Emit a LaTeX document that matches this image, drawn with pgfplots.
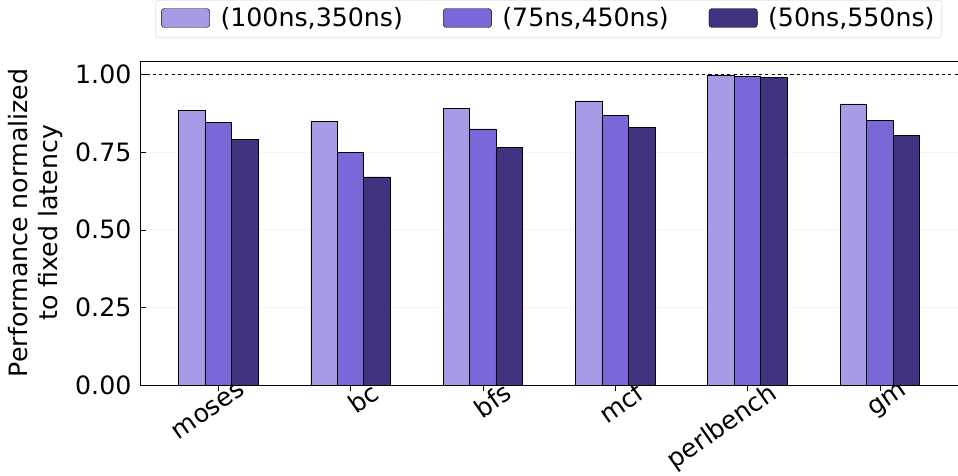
\documentclass[border=0pt]{standalone}
\usepackage{pgfplots}
\pgfplotsset{compat=1.18}
\usepackage{fontspec}
\setmainfont{DejaVu Sans}
\definecolor{cA}{RGB}{168,155,230}
\definecolor{cB}{RGB}{123,104,216}
\definecolor{cC}{RGB}{66,50,128}
\begin{document}
\fontsize{24}{28}\selectfont
\begin{tikzpicture}
\begin{axis}[
  width=777pt, height=308pt, scale only axis,
  xmin=-0.59, xmax=5.59, ymin=0, ymax=1.044,
  xtick={0,...,5}, xticklabels={moses,bc,bfs,mcf,perlbench,gm},
  x tick label style={rotate=35, anchor=north east, inner sep=1pt, xshift=22pt, yshift=-2pt},
  ytick={0,0.25,0.5,0.75,1}, yticklabel style={/pgf/number format/fixed,/pgf/number format/fixed zerofill,/pgf/number format/precision=2},
  /pgf/number format/assume math mode=true,
  ymajorgrids, grid style={gray!8},
  tick style={black}, major tick length=6pt,
  xtick pos=bottom, ytick pos=left,
  ylabel={Performance normalized\\to fixed latency}, ylabel style={align=center, yshift=-4pt},
  ybar=0pt, bar width=0.2,
  legend style={at={(0.5,1.07)}, anchor=south, legend columns=3, draw=gray!40, rounded corners=3pt,
    inner sep=5pt,
    /tikz/every odd column/.style={column sep=8pt},
    /tikz/every even column/.style={column sep=36pt}, font=\fontsize{24}{28}\selectfont},
  legend image code/.code={\draw[#1] (0pt,-8pt) rectangle (46pt,10pt);},
]
\addplot[fill=cA, draw=black] coordinates {(0,0.885)(1,0.85)(2,0.89)(3,0.915)(4,0.997)(5,0.905)};
\addplot[fill=cB, draw=black] coordinates {(0,0.845)(1,0.75)(2,0.825)(3,0.868)(4,0.993)(5,0.852)};
\addplot[fill=cC, draw=black] coordinates {(0,0.79)(1,0.67)(2,0.765)(3,0.83)(4,0.99)(5,0.803)};
\legend{(100ns{,}350ns),(75ns{,}450ns),(50ns{,}550ns)}
\draw[dashed, line width=1.2pt] (axis cs:-0.59,1) -- (axis cs:5.59,1);
\end{axis}
\end{tikzpicture}
\end{document}
